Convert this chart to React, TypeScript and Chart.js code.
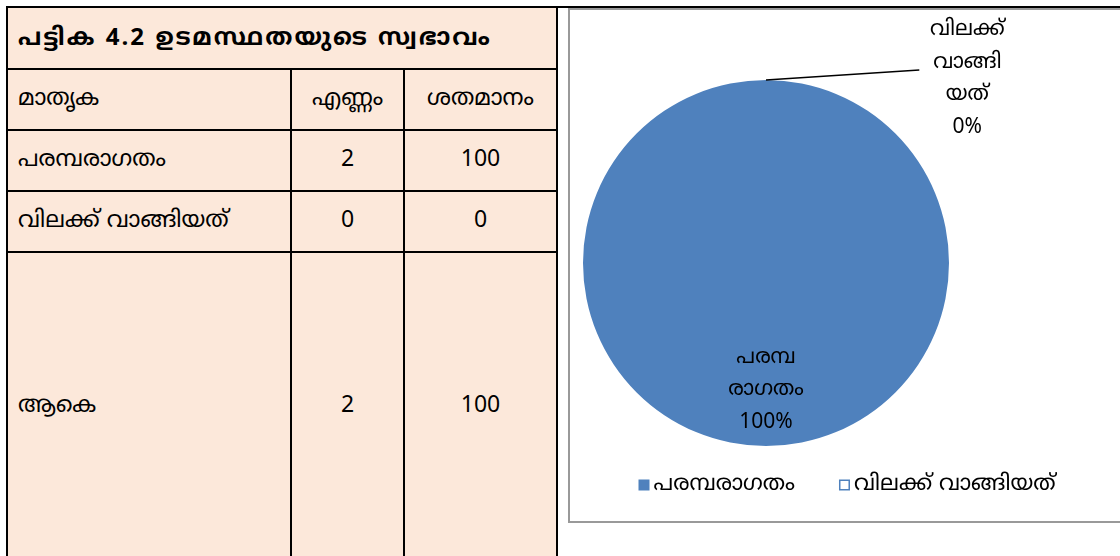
import React, { useEffect, useRef } from "react";
import { Chart, registerables } from "chart.js";

Chart.register(...registerables);

const tableTitle = "പട്ടിക 4.2 ഉടമസ്ഥതയുടെ സ്വഭാവം";
const headers = ["മാതൃക", "എണ്ണം", "ശതമാനം"];
const categories = ["പരമ്പരാഗതം", "വിലക്ക് വാങ്ങിയത്"];
const counts = [2, 0];
const percents = [100, 0];
const totalLabel = "ആകെ";
const totalCount = 2;
const totalPercent = 100;
const pieLabelLines = [["പരമ്പ", "രാഗതം"], ["വിലക്ക്", "വാങ്ങി", "യത്"]];
const sliceColors = ["#4F81BD", "#C0504D"];

const FONT = '"Noto Sans Malayalam", "Noto Sans", "DejaVu Sans", sans-serif';

const labelPlugin = {
  id: "sliceLabels",
  afterDatasetsDraw(chart: any) {
    const ctx = chart.ctx;
    const meta = chart.getDatasetMeta(0);
    const data = chart.data.datasets[0].data as number[];
    const total = data.reduce((a: number, b: number) => a + b, 0);
    ctx.save();
    ctx.font = `21px ${FONT}`;
    ctx.fillStyle = "#000";
    ctx.textAlign = "center";
    ctx.textBaseline = "middle";
    const lh = 32.5;
    meta.data.forEach((arc: any, i: number) => {
      const { x, y, outerRadius, startAngle, endAngle } = arc.getProps(
        ["x", "y", "outerRadius", "startAngle", "endAngle"],
        true
      );
      const mid = (startAngle + endAngle) / 2;
      const pct = Math.round((data[i] / total) * 100) + "%";
      const lines = [...pieLabelLines[i], pct];
      if (data[i] > 0) {
        const cx = x + Math.cos(mid) * outerRadius * 0.0;
        const cy = y + Math.sin(mid) * outerRadius * 0.7;
        const top = cy - ((lines.length - 1) * lh) / 2;
        lines.forEach((t, k) => ctx.fillText(t, cx, top + k * lh));
      } else {
        const ax = x + Math.cos(mid) * outerRadius;
        const ay = y + Math.sin(mid) * outerRadius;
        const lx = x + outerRadius * 1.1;
        const ly = ay;
        const ex = lx - 48;
        const ey = ay - 10;
        ctx.strokeStyle = "#000";
        ctx.lineWidth = 1.5;
        ctx.beginPath();
        ctx.moveTo(ax, ay);
        ctx.lineTo(ex, ey);
        ctx.stroke();
        const top = ly - ((lines.length - 1) * lh) / 2;
        lines.forEach((t, k) => ctx.fillText(t, lx, top + k * lh));
      }
    });
    ctx.restore();
  },
};

const legendPlugin = {
  id: "customLegend",
  afterDraw(chart: any) {
    const ctx = chart.ctx;
    const labels = chart.data.labels as string[];
    const colors = chart.data.datasets[0].backgroundColor as string[];
    ctx.save();
    ctx.font = `22px ${FONT}`;
    ctx.textBaseline = "middle";
    ctx.textAlign = "left";
    const box = 11;
    const gapBoxText = 4;
    const gapItems = 44;
    const widths = labels.map((l) => box + gapBoxText + ctx.measureText(l).width);
    const totalW = widths.reduce((a, b) => a + b, 0) + gapItems * (labels.length - 1);
    let x = chart.width / 2 + 3 - totalW / 2;
    const y = chart.height - 36;
    labels.forEach((l, i) => {
      if (i === 0) {
        ctx.fillStyle = colors[0];
        ctx.fillRect(x, y - box / 2, box, box);
      } else {
        ctx.strokeStyle = "#4F81BD";
        ctx.lineWidth = 1.5;
        ctx.strokeRect(x + 0.75, y - box / 2 + 0.75, box - 1.5, box - 1.5);
      }
      ctx.fillStyle = "#000";
      ctx.fillText(l, x + box + gapBoxText, y + 1);
      x += widths[i] + gapItems;
    });
    ctx.restore();
  },
};

function PieChart() {
  const ref = useRef<HTMLCanvasElement>(null);
  useEffect(() => {
    if (!ref.current) return;
    const chart = new Chart(ref.current, {
      type: "pie",
      data: {
        labels: categories,
        datasets: [
          {
            data: percents,
            backgroundColor: sliceColors,
            borderWidth: 0,
          },
        ],
      },
      options: {
        animation: false,
        responsive: false,
        maintainAspectRatio: false,
        layout: { padding: { left: 13, right: 169, top: 71, bottom: 75 } },
        plugins: {
          legend: { display: false },
          tooltip: { enabled: false },
        },
      },
      plugins: [labelPlugin, legendPlugin],
    });
    return () => chart.destroy();
  }, []);
  return <canvas ref={ref} width={548} height={512} style={{ display: "block" }} />;
}

const cellBase: React.CSSProperties = {
  position: "fixed",
  display: "flex",
  alignItems: "center",
  fontFamily: FONT,
  fontSize: 23,
  color: "#000",
  boxSizing: "border-box",
  whiteSpace: "nowrap",
};

export default function App() {
  const colX = [6, 290, 403, 556];
  const rowY = [6, 68, 129, 190, 251, 580];
  const rows: (string | number)[][] = [
    headers,
    [categories[0], counts[0], percents[0]],
    [categories[1], counts[1], percents[1]],
    [totalLabel, totalCount, totalPercent],
  ];
  const lines: React.ReactNode[] = [];
  rowY.slice(0, 5).forEach((y, i) =>
    lines.push(
      <div key={"h" + i} style={{ position: "fixed", left: colX[0], top: y, width: colX[3] - colX[0], height: 2, background: "#000" }} />
    )
  );
  lines.push(<div key="htop" style={{ position: "fixed", left: colX[0], top: 6, width: 1120, height: 2, background: "#000" }} />);
  colX.forEach((x, i) => {
    const top = i === 1 || i === 2 ? rowY[1] : rowY[0];
    lines.push(
      <div key={"v" + i} style={{ position: "fixed", left: x, top, width: 2, height: 600 - top, background: "#000" }} />
    );
  });
  const cells: React.ReactNode[] = [];
  cells.push(
    <div key="title" style={{ ...cellBase, left: colX[0] + 12, top: rowY[0] + 2, height: rowY[1] - rowY[0], fontWeight: "bold", fontSize: 24, letterSpacing: 2 }}>
      {tableTitle}
    </div>
  );
  rows.forEach((r, ri) => {
    const top = rowY[ri + 1] + 2;
    const h = (ri === 3 ? 556 + 10 - 8 : rowY[ri + 2]) - rowY[ri + 1];
    r.forEach((v, ci) => {
      const left = colX[ci] + 2;
      const w = colX[ci + 1] - colX[ci] - 2;
      cells.push(
        <div
          key={"c" + ri + "-" + ci}
          style={{
            ...cellBase,
            left: ci === 0 ? left + 10 : left,
            top,
            width: ci === 0 ? w - 10 : w,
            height: ri === 3 ? 306 : h - 2,
            justifyContent: ci === 0 ? "flex-start" : "center",
          }}
        >
          {String(v)}
        </div>
      );
    });
  });
  return (
    <div>
      <div style={{ position: "fixed", left: 0, top: 0, width: 1120, height: 556, background: "#fff" }} />
      <div style={{ position: "fixed", left: colX[0], top: rowY[0], width: colX[3] - colX[0], height: 600, background: "#FCE8DA" }} />
      {cells}
      {lines}
      <div style={{ position: "fixed", left: 568, top: 8, width: 560, height: 515, border: "2px solid #999", boxSizing: "border-box", background: "#fff" }} />
      <div style={{ position: "fixed", left: 570, top: 9 }}>
        <PieChart />
      </div>
    </div>
  );
}
